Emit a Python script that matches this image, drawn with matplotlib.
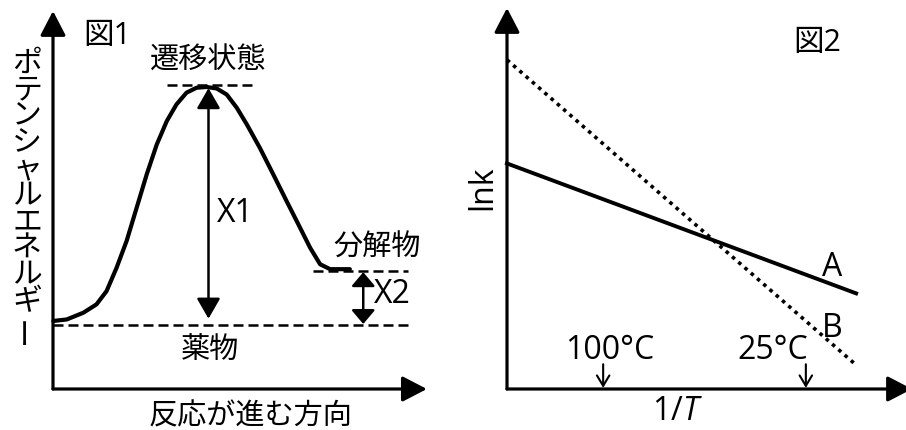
import matplotlib
matplotlib.use("Agg")
import matplotlib.pyplot as plt

plt.rcParams["font.family"] = ["Open Sans", "Noto Sans CJK JP", "DejaVu Sans"]
plt.rcParams["mathtext.fontset"] = "custom"
plt.rcParams["mathtext.it"] = "Open Sans:italic"

# --- 図1: potential energy along the reaction (arbitrary units 0-100) ---
curve_x = [0.1, 3.7, 8.2, 11.7, 14.4, 17.1, 19.8, 22.5, 25.2, 27.9, 30.6, 33.2,
           35.9, 38.6, 41.3, 44.0, 46.7, 49.4, 52.1, 55.6, 59.2, 62.8, 66.4,
           69.1, 71.8, 74.5, 79.8]
curve_y = [18.0, 18.4, 20.2, 22.4, 25.9, 32.1, 39.2, 48.0, 56.8, 64.7, 70.9, 75.3,
           78.4, 79.7, 79.9, 79.5, 77.9, 74.4, 70.0, 63.8, 56.8, 49.7, 42.7,
           37.4, 33.0, 31.7, 31.7]
ts_level = 80.4
product_level = 31.3
reactant_level = 17.0
ts_span = [30.6, 53.5]
product_span = [69.9, 95.4]
reactant_span = [0.0, 95.4]
x1_pos = 41.8
x2_pos = 83.4
ylabel1 = "ポテンシャルエネルギー"

# --- 図2: Arrhenius plot (arbitrary units 0-100) ---
inv_T = [0.0, 87.5]
lnk_A = [59.2, 25.1]
lnk_B = [86.4, 6.3]
temp_pos = [24.1, 74.9]
temp_labels = ["100°C", "25°C"]

fig = plt.figure(figsize=(9.06, 4.30), dpi=100)
ax1 = fig.add_axes([53 / 906, 41 / 430, 372 / 906, 378 / 430])
ax2 = fig.add_axes([507 / 906, 41 / 430, 399 / 906, 381 / 430])
for ax in (ax1, ax2):
    ax.set_xlim(0, 100)
    ax.set_ylim(0, 100)
    ax.axis("off")

fs = 21      # japanese text
fs_lat = 23  # latin labels
axis_arrow = dict(arrowstyle="-|>,head_length=1.5,head_width=0.78", mutation_scale=10,
                  lw=2.3, color="black", shrinkA=0, shrinkB=0)

# ---- left panel ----
ax1.annotate("", xy=(0, 100), xytext=(0, 0), arrowprops=axis_arrow, annotation_clip=False)
ax1.annotate("", xy=(100.5, 0), xytext=(0, 0), arrowprops=axis_arrow, annotation_clip=False)
ax1.plot(curve_x, curve_y, color="black", lw=3.0, solid_capstyle="round", clip_on=False)

dash = dict(color="black", lw=1.8, linestyle=(0, (4, 2)), clip_on=False)
ax1.plot(ts_span, [ts_level, ts_level], **dash)
ax1.plot(product_span, [product_level, product_level], **dash)
ax1.plot(reactant_span, [reactant_level, reactant_level], **dash)

ax1.annotate("", xy=(x1_pos, ts_level - 0.8), xytext=(x1_pos, reactant_level + 1.6),
             arrowprops=dict(arrowstyle="<|-|>,head_length=1.25,head_width=0.72",
                             mutation_scale=10, lw=1.8, color="black",
                             shrinkA=0, shrinkB=0))
ax1.annotate("", xy=(x2_pos, product_level - 0.4), xytext=(x2_pos, reactant_level + 0.2),
             arrowprops=dict(arrowstyle="<|-|>,head_length=0.85,head_width=0.72",
                             mutation_scale=10, lw=1.8, color="black",
                             shrinkA=0, shrinkB=0))

ax1.text(8.1, 93.4, "図1", fontsize=22, ha="left", va="center")
ax1.text(41.7, 86.8, "遷移状態", fontsize=fs, ha="center", va="center")
ax1.text(44.0, 46.3, "X1", fontsize=fs_lat, ha="left", va="center")
ax1.text(87.1, 37.3, "分解物", fontsize=fs, ha="center", va="center")
ax1.text(86.3, 25.1, "X2", fontsize=fs_lat, ha="left", va="center")
ax1.text(42.2, 10.1, "薬物", fontsize=fs, ha="center", va="center")
ax1.text(53.0, -7.3, "反応が進む方向", fontsize=fs, ha="center", va="center")

# vertical (tategaki) y label, one character per line
for i, ch in enumerate(ylabel1):
    ax1.text(-7.0, (388 - 63 - 26.5 * i) / 3.78, ch, fontsize=21.5, ha="center",
             va="center", rotation=90 if ch == "ー" else 0)

# ---- right panel ----
ax2.annotate("", xy=(0, 100), xytext=(0, 0), arrowprops=axis_arrow, annotation_clip=False)
ax2.annotate("", xy=(101.5, 0), xytext=(0, 0), arrowprops=axis_arrow, annotation_clip=False)
ax2.plot(inv_T, lnk_A, color="black", lw=2.8, clip_on=False)
ax2.plot(inv_T, lnk_B, color="black", lw=2.6, linestyle=(0, (1, 1.3)), clip_on=False)

for xp in temp_pos:
    ax2.annotate("", xy=(xp, 0.3), xytext=(xp, 6.5),
                 arrowprops=dict(arrowstyle="->,head_length=0.75,head_width=0.45",
                                 mutation_scale=10, lw=1.5, color="black",
                                 shrinkA=0, shrinkB=0))
ax2.text(25.8, 10.2, temp_labels[0], fontsize=fs_lat, ha="center", va="center")
ax2.text(66.7, 10.2, temp_labels[1], fontsize=fs_lat, ha="center", va="center")

ax2.text(77.7, 90.8, "図2", fontsize=22, ha="center", va="center")
ax2.text(81.5, 32.0, "A", fontsize=fs_lat, ha="center", va="center")
ax2.text(81.5, 16.0, "B", fontsize=fs_lat, ha="center", va="center")
ax2.text(-6.0, 52.8, "lnk", fontsize=fs_lat, ha="center", va="center", rotation=90)
ax2.text(42.6, -6.0, "1/$\\mathit{T}$", fontsize=fs_lat, ha="center", va="center")

fig.savefig("out.png", dpi=100, facecolor="white")
